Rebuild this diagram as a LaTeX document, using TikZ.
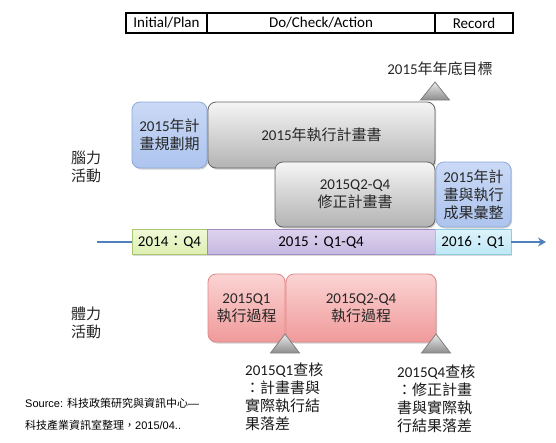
\documentclass[tikz,border=0pt]{standalone}
\usepackage{fontspec}
\setmainfont{Carlito}
\newfontfamily\cjk{Noto Sans CJK TC}
\newfontfamily\arialf{Liberation Sans}
\usetikzlibrary{arrows.meta,shadows}
\newXeTeXintercharclass\cjkcls
\makeatletter
\count@="3000
\loop \XeTeXcharclass\count@=\cjkcls \advance\count@ 1 \ifnum\count@<"3040 \repeat
\count@="4E00
\loop \XeTeXcharclass\count@=\cjkcls \advance\count@ 1 \ifnum\count@<"A000 \repeat
\count@="FF00
\loop \XeTeXcharclass\count@=\cjkcls \advance\count@ 1 \ifnum\count@<"FFF0 \repeat
\makeatother
\def\latinsel{\normalfont}
\XeTeXinterchartoks 0 \cjkcls = {\cjk}
\XeTeXinterchartoks 4095 \cjkcls = {\cjk}
\XeTeXinterchartoks \cjkcls 0 = {\latinsel}
\XeTeXinterchartoks \cjkcls 4095 = {\latinsel}
\XeTeXinterchartokenstate=1
\definecolor{arrowblue}{HTML}{4F81BD}
\definecolor{bluetop}{HTML}{CAD9F5}
\definecolor{bluebot}{HTML}{ADC4EE}
\definecolor{blueedge}{HTML}{8EA8D8}
\definecolor{greentop}{HTML}{F0F8D8}
\definecolor{greenbot}{HTML}{DDEFB0}
\definecolor{greenedge}{HTML}{A8C870}
\definecolor{purptop}{HTML}{DCD3EE}
\definecolor{purpbot}{HTML}{C6B8E0}
\definecolor{purpedge}{HTML}{A08CC0}
\definecolor{cyantop}{HTML}{DDF3FB}
\definecolor{cyanbot}{HTML}{BDE7F5}
\definecolor{cyanedge}{HTML}{8CCDE0}
\definecolor{pinktop}{HTML}{FBD3D3}
\definecolor{pinkbot}{HTML}{F09A9A}
\definecolor{pinkedge}{HTML}{E08888}
\tikzset{
  box/.style={rounded corners=8pt, align=center, inner sep=0pt, line width=0.8pt,
    font=\fontsize{15}{18}\selectfont, text=black!85,
    drop shadow={shadow xshift=1.2pt, shadow yshift=-1.5pt, fill=black, opacity=0.18}},
  bluebox/.style={box, draw=blueedge, top color=bluetop, bottom color=bluebot},
  graybox/.style={box, draw=black!60, top color=black!4, bottom color=black!30},
  pinkbox/.style={box, draw=pinkedge, top color=pinktop, bottom color=pinkbot},
  seg/.style={inner sep=0pt, line width=0.8pt, minimum height=25pt, font=\fontsize{15}{18}\selectfont,
    drop shadow={shadow xshift=1pt, shadow yshift=-1.2pt, fill=black, opacity=0.15}},
  hdr/.style={draw=black, line width=1.6pt, minimum height=20pt, inner sep=0pt, font=\fontsize{15}{18}\selectfont},
  tri/.style={draw=black!50, line width=0.8pt, top color=black!8, bottom color=black!45},
  lbl/.style={inner sep=0pt, align=center, font=\fontsize{15}{18}\selectfont, text=black!85},
  note/.style={inner sep=0pt, align=left, anchor=west, font=\fontsize{15}{18}\selectfont, text=black!90},
  tl/.style={draw=arrowblue, line width=2.4pt}
}
\begin{document}
\begin{tikzpicture}[x=1pt,y=-1pt]
\useasboundingbox (0,0) rectangle (556,442);
% header
\node[hdr, minimum width=81pt] (h1) at (166.5,23) {Initial/Plan};
\node[hdr, minimum width=228pt] (h2) at (321,23) {Do/Check/Action};
\node[hdr, minimum width=78pt] (h3) at (474,23) {Record};
% top target
\node[lbl] (goal) at (440,69) {2015年年底目標};
\draw[tri] (435,82) -- (449.5,100) -- (420.5,100) -- cycle;
% brain boxes
\node[bluebox, minimum width=75pt, minimum height=66pt] (b1) at (169.5,135) {2015年計\\畫規劃期};
\node[graybox, minimum width=227pt, minimum height=66pt] (g1) at (321.5,135) {2015年執行計畫書};
\node[graybox, minimum width=160pt, minimum height=65pt] (g2) at (355,194.5) {2015Q2-Q4\\修正計畫書};
\node[bluebox, minimum width=75pt, minimum height=65pt] (b2) at (473.5,194.5) {2015年計\\畫與執行\\成果彙整};
% side labels
\node[lbl] (brain) at (86,166.5) {腦力\\活動};
\node[lbl] (body) at (86,322.5) {體力\\活動};
% timeline
\coordinate (ls) at (97,242);
\coordinate (le) at (546,242);
\node[seg, draw=greenedge, top color=greentop, bottom color=greenbot, minimum width=75pt] (t1) at (169.5,242) {2014：Q4};
\node[seg, draw=purpedge, top color=purptop, bottom color=purpbot, minimum width=228pt] (t2) at (321,242) {2015：Q1-Q4};
\node[seg, draw=cyanedge, top color=cyantop, bottom color=cyanbot, minimum width=76pt] (t3) at (473,242) {2016：Q1};
\draw[tl] (ls) -- (t1.west);
\draw[tl, -{Stealth[length=8pt,width=9pt]}] (t3.east) -- (le);
% body boxes
\node[pinkbox, minimum width=77pt, minimum height=68pt] (p1) at (246.5,308) {2015Q1\\執行過程};
\node[pinkbox, minimum width=150pt, minimum height=68pt] (p2) at (361,308) {2015Q2-Q4\\執行過程};
\draw[tri] (285,334) -- (299.5,353) -- (270.5,353) -- cycle;
\draw[tri] (436,334) -- (450.5,353) -- (421.5,353) -- cycle;
\node[note] (n1) at (245,397) {2015Q1查核\\：計畫書與\\實際執行結\\果落差};
\node[note] (n2) at (397,399) {2015Q4查核\\：修正計畫\\書與實際執\\行結果落差};
% source
\node[inner sep=0pt, align=left, anchor=west, font=\fontsize{11}{22}\selectfont\arialf\def\latinsel{\arialf}] (src) at (25,414) {Source: 科技政策研究與資訊中心—\\科技產業資訊室整理，2015/04..};
\end{tikzpicture}
\end{document}
